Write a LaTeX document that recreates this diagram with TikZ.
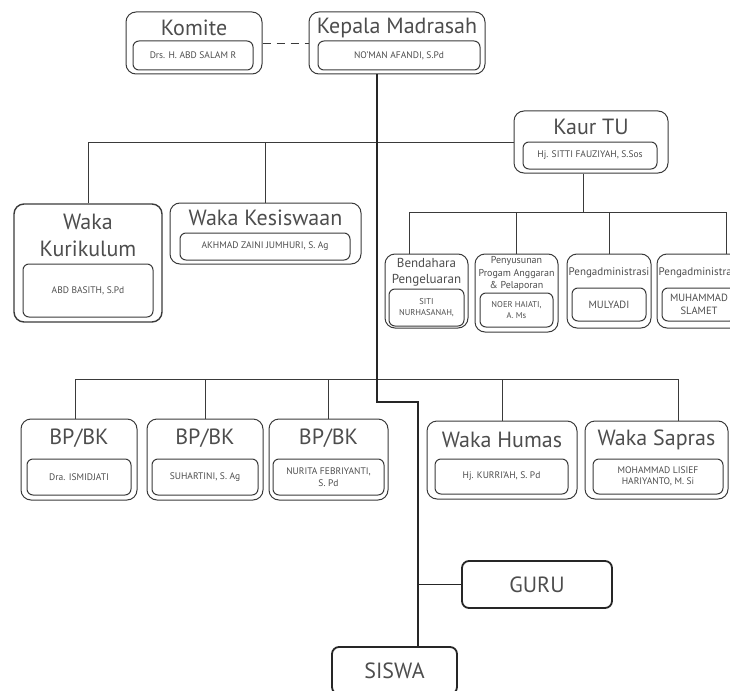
\documentclass[tikz,border=0pt]{standalone}
\usepackage{fontspec}
\setmainfont{PT Sans}
\usetikzlibrary{calc}
\definecolor{txt}{HTML}{4D4D4D}
\definecolor{ln}{HTML}{3A3A3A}
\tikzset{
  outer/.style={draw=ln,line width=1pt,rounded corners=10pt,inner sep=0pt},
  inner/.style={draw=ln,line width=1pt,rounded corners=6pt,inner sep=0pt,align=center,
    text=txt,font=\fontsize{9.5}{11.5}\selectfont},
  title/.style={text=txt,font=\fontsize{22}{27}\selectfont,inner sep=0pt,align=center},
  small/.style={text=txt,font=\fontsize{13}{16}\selectfont,inner sep=0pt,align=center},
  link/.style={draw=ln,line width=0.9pt},
  main/.style={draw=black!85,line width=1.8pt},
  heavy/.style={draw=black!85,line width=1.8pt,rounded corners=7pt,inner sep=0pt,
    text=txt,font=\fontsize{22}{24}\selectfont},
}
\begin{document}
\begin{tikzpicture}[x=1pt,y=-1pt]
\clip (0,0) rectangle (730,690);
% pimpinan
\node[outer,minimum width=136pt,minimum height=62pt] (komite) at (194,43) {};
\node[title] (komite-t) at (194,28) {Komite};
\node[inner,minimum width=120pt,minimum height=29pt] (komite-n) at (193,55.5) {Drs. H. ABD SALAM R};
\node[outer,minimum width=176pt,minimum height=62pt] (kepala) at (397,43) {};
\node[title] (kepala-t) at (397,28) {Kepala Madrasah};
\node[inner,minimum width=162pt,minimum height=29pt] (kepala-n) at (399,55.5) {NO'MAN AFANDI, S.Pd};
\draw[link,dash pattern=on 8pt off 6pt] (komite.east) -- (kepala.west);
% wakil
\node[outer,line width=1.4pt,minimum width=148pt,minimum height=118pt] (kurikulum) at (88,263) {};
\node[title] (kurikulum-t) at (88,235) {Waka\\Kurikulum};
\node[inner,minimum width=130pt,minimum height=53pt] (kurikulum-n) at (88,290.5) {ABD BASITH, S.Pd};
\node[outer,minimum width=191pt,minimum height=61pt] (kesiswaan) at (265.5,233.5) {};
\node[title] (kesiswaan-t) at (265.5,218) {Waka Kesiswaan};
\node[inner,minimum width=170pt,minimum height=27pt] (kesiswaan-n) at (265,246.5) {AKHMAD ZAINI JUMHURI, S. Ag};
% tata usaha
\node[outer,minimum width=154pt,minimum height=62pt] (kaur) at (591,142) {};
\node[title] (kaur-t) at (591,127) {Kaur TU};
\node[inner,minimum width=134pt,minimum height=27pt] (kaur-n) at (590,155.5) {Hj. SITTI FAUZIYAH, S.Sos};
\node[outer,minimum width=83pt,minimum height=74pt] (bendahara) at (426.5,291) {};
\node[small] (bendahara-t) at (426.5,272) {Bendahara\\Pengeluaran};
\node[inner,font=\fontsize{8.5}{10.5}\selectfont,minimum width=75pt,minimum height=37pt] (bendahara-n) at (426.5,307.5) {SITI\\NURHASANAH,};
\node[outer,minimum width=83pt,minimum height=78pt] (penyusunan) at (516.5,293) {};
\node[small,font=\fontsize{10}{12.5}\selectfont] (penyusunan-t) at (516.5,273.5) {Penyusunan\\Progam Anggaran\\\& Pelaporan};
\node[inner,font=\fontsize{8.5}{11.5}\selectfont,minimum width=73pt,minimum height=34pt] (penyusunan-n) at (516.5,310) {NOER HAIATI,\\A. Ms};
\node[outer,minimum width=84pt,minimum height=74pt] (admin1) at (609,291) {};
\node[small,font=\fontsize{11}{13}\selectfont] (admin1-t) at (609,273) {Pengadministrasi};
\node[inner,font=\fontsize{10.5}{12}\selectfont,minimum width=74pt,minimum height=33pt] (admin1-n) at (609,304.5) {MULYADI};
\node[outer,minimum width=84pt,minimum height=74pt] (admin2) at (699,291) {};
\node[small,font=\fontsize{11}{13}\selectfont] (admin2-t) at (699,273) {Pengadministrasi};
\node[inner,font=\fontsize{10.5}{13}\selectfont,minimum width=74pt,minimum height=33pt] (admin2-n) at (699,304.5) {MUHAMMAD\\SLAMET};
% bimbingan dan humas
\node[outer,minimum width=116pt,minimum height=81pt] (bp1) at (79,459.5) {};
\node[title] (bp1-t) at (79,438) {BP/BK};
\node[inner,minimum width=104pt,minimum height=36pt] (bp1-n) at (79,477) {Dra. ISMIDJATI};
\node[outer,minimum width=116pt,minimum height=81pt] (bp2) at (205,459.5) {};
\node[title] (bp2-t) at (205,438) {BP/BK};
\node[inner,minimum width=106pt,minimum height=36pt] (bp2-n) at (205,477) {SUHARTINI, S. Ag};
\node[outer,minimum width=119pt,minimum height=81pt] (bp3) at (328.5,459.5) {};
\node[title] (bp3-t) at (328.5,438) {BP/BK};
\node[inner,minimum width=111pt,minimum height=36pt] (bp3-n) at (328.5,477) {NURITA FEBRIYANTI,\\S. Pd};
\node[outer,minimum width=150pt,minimum height=78pt] (humas) at (502,460) {};
\node[title] (humas-t) at (502,440) {Waka Humas};
\node[inner,minimum width=133pt,minimum height=35pt] (humas-n) at (501.5,476.5) {Hj. KURRI'AH, S. Pd};
\node[outer,minimum width=143pt,minimum height=78pt] (sapras) at (656.5,460) {};
\node[title] (sapras-t) at (656.5,440) {Waka Sapras};
\node[inner,minimum width=130pt,minimum height=35pt] (sapras-n) at (658,476.5) {MOHAMMAD LISIEF\\HARIYANTO, M. Si};
% guru dan siswa
\node[heavy,minimum width=150pt,minimum height=47pt] (guru) at (537,584.5) {GURU};
\node[heavy,minimum width=125pt,minimum height=47pt] (siswa) at (394.5,670.5) {SISWA};
% garis
\coordinate (m1) at (377,402);
\coordinate (m2) at (418,402);
\coordinate (tu) at (583,213);
\coordinate (bot) at (377,380);
\draw[link] (kurikulum.north) |- (kaur.west);
\draw[link] (kesiswaan.north) -- (kesiswaan.north |- kaur.west);
\draw[link] (kaur.south -| tu) -- (tu);
\draw[link] ($(bendahara.north)+(-17,0)$) |- ($(admin2.north)+(27,-41)$) -- ($(admin2.north)+(27,0)$);
\draw[link] (penyusunan.north) -- (penyusunan.north |- tu);
\draw[link] (admin1.north) -- (admin1.north |- tu);
\draw[link] ($(bp1.north)+(-4,0)$) |- ($(sapras.north)+(21.5,-41)$) -- ($(sapras.north)+(21.5,0)$);
\draw[link] (bp2.north) -- (bp2.north |- bot);
\draw[link] (bp3.north) -- (bp3.north |- bot);
\draw[link] (humas.north) -- (humas.north |- bot);
\draw[main] (kepala.south -| m1) -- (m1) -- (m2) -- (siswa.north -| m2);
\draw[main,line width=1.5pt] (guru.west -| m2) -- (guru.west);
\end{tikzpicture}
\end{document}
